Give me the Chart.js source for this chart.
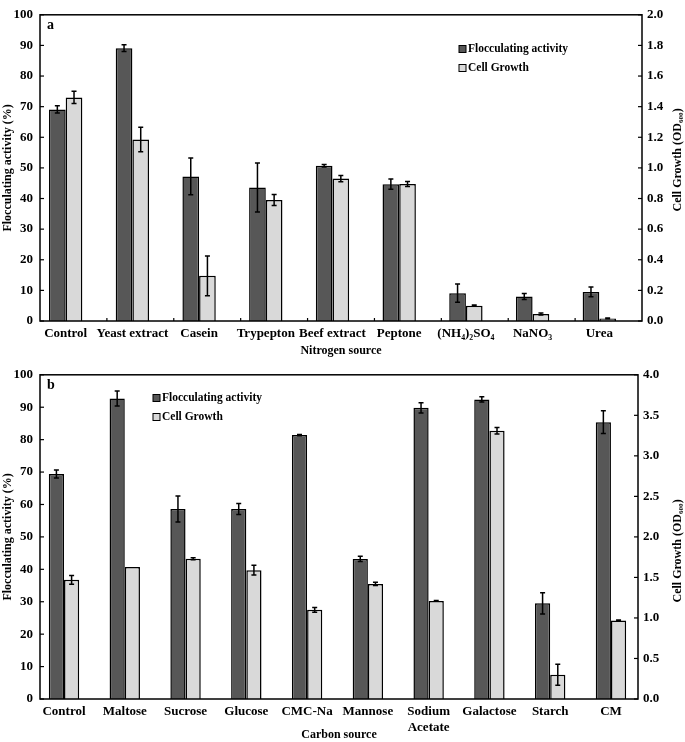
<!DOCTYPE html>
<html>
<head>
<meta charset="utf-8">
<script src="https://cdn.jsdelivr.net/npm/chart.js@4/dist/chart.umd.min.js"></script>
<style>
  html, body { margin: 0; padding: 0; background: #fff; }
  #wrap { position: relative; width: 685px; height: 742px; }
  #chartA { position: absolute; left: 0; top: 0; }
  #chartB { position: absolute; left: 0; top: 360px; }
</style>
</head>
<body>
<div id="wrap">
  <canvas id="chartA" width="685" height="360"></canvas>
  <canvas id="chartB" width="685" height="382"></canvas>
</div>
<script>
// --- (a) nitrogen source ---
const nitrogenSources = ['Control', 'Yeast extract', 'Casein', 'Trypepton', 'Beef extract', 'Peptone', '(NH\u2084)\u2082SO\u2084', 'NaNO\u2083', 'Urea'];
const nFloc = [69.1, 89.1, 47.2, 43.6, 50.7, 44.7, 9.1, 8.0, 9.5];
const nFlocErr = [1.2, 1.1, 6.0, 8.0, 0.4, 1.7, 3.0, 1.0, 1.6];
const nGrowth = [1.46, 1.185, 0.295, 0.79, 0.93, 0.895, 0.10, 0.046, 0.017];
const nGrowthErr = [0.04, 0.08, 0.13, 0.036, 0.02, 0.016, 0.004, 0.006, 0.003];

// --- (b) carbon source ---
const carbonSources = ['Control', 'Maltose', 'Sucrose', 'Glucose', 'CMC-Na', 'Mannose', ['Sodium', 'Acetate'], 'Galactose', 'Starch', 'CM'];
const cFloc = [69.4, 92.7, 58.6, 58.6, 81.4, 43.2, 89.8, 92.4, 29.5, 85.4];
const cFlocErr = [1.2, 2.3, 4.0, 1.7, 0.2, 0.8, 1.6, 0.8, 3.3, 3.5];
const cGrowth = [1.47, 1.63, 1.73, 1.59, 1.10, 1.42, 1.21, 3.31, 0.30, 0.97];
const cGrowthErr = [0.053, 0, 0.012, 0.06, 0.03, 0.02, 0.005, 0.04, 0.13, 0.005];

const SERIF = "'Liberation Serif', 'Times New Roman', serif";
const DARK = '#575757';
const LIGHT = '#d9d9d9';
const RIGHT_TITLE = 'Cell Growth (OD\u2086\u2080\u2080)';

Chart.defaults.font.family = SERIF;
Chart.defaults.font.weight = 'bold';
Chart.defaults.color = '#000';

// error bars, frame, inward ticks, right title, legend
const extrasPlugin = {
  id: 'extras',
  afterDatasetsDraw(chart, args, opts) {
    const ctx = chart.ctx;
    const area = chart.chartArea;
    ctx.save();
    ctx.strokeStyle = '#000';

    // error bars
    ctx.lineWidth = 1.5;
    chart.data.datasets.forEach((ds, i) => {
      const meta = chart.getDatasetMeta(i);
      const scale = chart.scales[meta.yAxisID];
      meta.data.forEach((bar, j) => {
        const err = ds.errors[j];
        if (!err) return;
        const v = ds.data[j].y;
        const yHi = scale.getPixelForValue(v + err);
        const yLo = scale.getPixelForValue(v - err);
        ctx.beginPath();
        ctx.moveTo(bar.x, yHi); ctx.lineTo(bar.x, yLo);
        ctx.moveTo(bar.x - 2.5, yHi); ctx.lineTo(bar.x + 2.5, yHi);
        ctx.moveTo(bar.x - 2.5, yLo); ctx.lineTo(bar.x + 2.5, yLo);
        ctx.stroke();
      });
    });

    // frame
    ctx.lineWidth = 1.5;
    ctx.strokeRect(area.left, area.top, area.right - area.left, area.bottom - area.top);

    // inward tick marks on both value axes
    ctx.lineWidth = 1.2;
    ['y', 'y1'].forEach(id => {
      const sc = chart.scales[id];
      sc.ticks.forEach(t => {
        const py = sc.getPixelForValue(t.value);
        ctx.beginPath();
        if (id === 'y') { ctx.moveTo(area.left, py); ctx.lineTo(area.left + 4, py); }
        else { ctx.moveTo(area.right, py); ctx.lineTo(area.right - 4, py); }
        ctx.stroke();
      });
    });

    // small category-boundary ticks on the x axis (panel a only)
    if (opts.slotTicks) {
      const n = chart.data.datasets[0].data.length;
      const w = (area.right - area.left) / n;
      for (let k = 1; k < n; k++) {
        const px = area.left + k * w;
        ctx.beginPath();
        ctx.moveTo(px, area.bottom); ctx.lineTo(px, area.bottom - 3);
        ctx.stroke();
      }
    }

    ctx.fillStyle = '#000';
    ctx.textBaseline = 'middle';

    // right axis title, read bottom to top like the left one
    const y1 = chart.scales.y1;
    ctx.save();
    ctx.translate(y1.right - 7, (area.top + area.bottom) / 2 + opts.rightTitleShift);
    ctx.rotate(-Math.PI / 2);
    ctx.textAlign = 'center';
    ctx.font = 'bold 12px ' + SERIF;
    ctx.fillText(RIGHT_TITLE, 0, 0);
    ctx.restore();

    // panel letter
    ctx.font = 'bold 14px ' + SERIF;
    ctx.textAlign = 'left';
    ctx.fillText(opts.letter, area.left + 7, area.top + 11);

    // legend
    ctx.font = 'bold 11.5px ' + SERIF;
    chart.data.datasets.forEach((ds, i) => {
      const y = opts.legendY + i * opts.legendGap;
      ctx.fillStyle = ds.backgroundColor;
      ctx.fillRect(opts.legendX, y - 3.5, 7, 7);
      ctx.lineWidth = 1;
      ctx.strokeRect(opts.legendX, y - 3.5, 7, 7);
      ctx.fillStyle = '#000';
      ctx.fillText(ds.label, opts.legendX + 9, y);
    });
    ctx.restore();
  }
};

function makeChart(id, cfg) {
  const toPoints = arr => arr.map((v, i) => ({ x: i, y: v }));
  return new Chart(document.getElementById(id), {
    type: 'bar',
    data: {
      datasets: [
        {
          label: 'Flocculating activity',
          data: toPoints(cfg.floc),
          errors: cfg.flocErr,
          yAxisID: 'y',
          backgroundColor: DARK,
          borderColor: '#000',
          borderWidth: 1.5,
          barPercentage: 1.0,
          categoryPercentage: 0.5
        },
        {
          label: 'Cell Growth',
          data: toPoints(cfg.growth),
          errors: cfg.growthErr,
          yAxisID: 'y1',
          backgroundColor: LIGHT,
          borderColor: '#000',
          borderWidth: 1.5,
          barPercentage: 1.0,
          categoryPercentage: 0.5
        }
      ]
    },
    options: {
      responsive: false,
      animation: false,
      layout: { padding: { top: cfg.padTop, bottom: 0, left: 0, right: 0 } },
      plugins: {
        legend: { display: false },
        tooltip: { enabled: false },
        extras: {
          letter: cfg.letter, legendX: cfg.legendX, legendY: cfg.legendY, legendGap: 19,
          rightTitleShift: cfg.rightTitleShift, slotTicks: cfg.slotTicks
        }
      },
      scales: {
        x: {
          type: 'linear',
          offset: false,
          min: cfg.xMin,
          max: cfg.xMax,
          grid: { display: false, drawTicks: false },
          border: { display: false },
          ticks: {
            stepSize: 1,
            includeBounds: false,
            autoSkip: false,
            maxRotation: 0,
            padding: 5,
            font: { size: 13 },
            callback: v => cfg.labels[v]
          },
          title: {
            display: true,
            text: cfg.xTitle,
            font: { size: 12 },
            padding: { top: 0, bottom: cfg.xTitlePad }
          },
          afterFit: s => { s.height = cfg.xHeight; }
        },
        y: {
          position: 'left',
          min: 0,
          max: 100,
          grid: { display: false, drawTicks: false },
          border: { display: false },
          ticks: { stepSize: 10, padding: 7, font: { size: 13 } },
          title: {
            display: true,
            text: 'Flocculating activity (%)',
            font: { size: 12 },
            padding: { top: 1, bottom: 0 }
          },
          afterFit: s => { s.width = 40; }
        },
        y1: {
          position: 'right',
          min: 0,
          max: cfg.growthMax,
          grid: { display: false, drawTicks: false },
          border: { display: false },
          ticks: { stepSize: cfg.growthStep, padding: 5, font: { size: 13 }, callback: v => v.toFixed(1) },
          title: { display: false },
          afterFit: s => { s.width = cfg.rightWidth; }
        }
      }
    },
    plugins: [extrasPlugin]
  });
}

makeChart('chartA', {
  labels: nitrogenSources,
  floc: nFloc, flocErr: nFlocErr,
  growth: nGrowth, growthErr: nGrowthErr,
  growthMax: 2.0, growthStep: 0.2,
  xMin: -0.385, xMax: 8.64,
  xTitle: 'Nitrogen source', xTitlePad: 2, xHeight: 39,
  padTop: 5, rightWidth: 43, rightTitleShift: -8, slotTicks: true,
  letter: 'a', legendX: 459, legendY: 49
});

makeChart('chartB', {
  labels: carbonSources,
  floc: cFloc, flocErr: cFlocErr,
  growth: cGrowth, growthErr: cGrowthErr,
  growthMax: 4.0, growthStep: 0.5,
  xMin: -0.395, xMax: 9.445,
  xTitle: 'Carbon source', xTitlePad: 0, xHeight: 43,
  padTop: 11, rightWidth: 47, rightTitleShift: 14, slotTicks: false,
  letter: 'b', legendX: 153, legendY: 38
});
</script>
</body>
</html>
